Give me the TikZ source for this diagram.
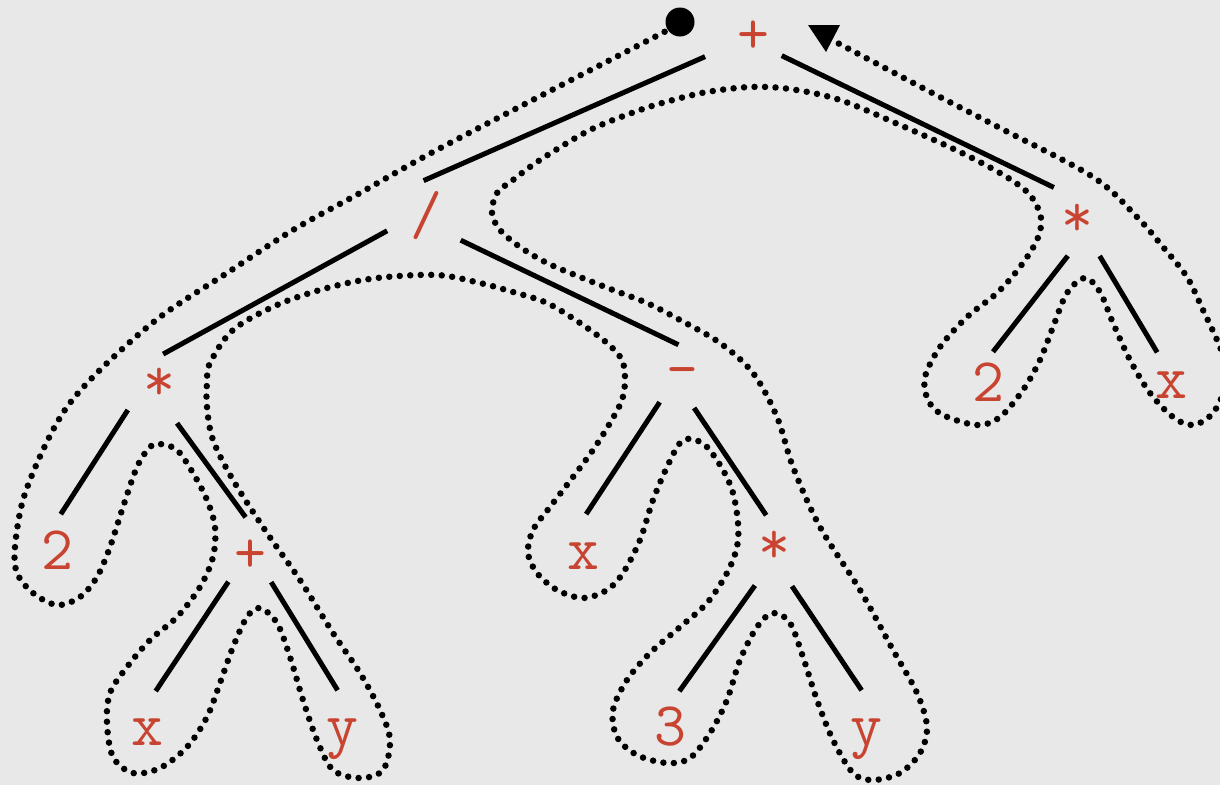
\documentclass[tikz,border=0pt]{standalone}
\usepackage{fontspec}
\definecolor{paper}{RGB}{232,232,232}
\definecolor{tred}{RGB}{200,68,48}
\newcommand{\lblfont}{\ttfamily\fontsize{62}{62}\selectfont}

\begin{document}
\begin{tikzpicture}[x=1pt, y=-1pt,
  lbl/.style={circle, inner sep=0pt, outer sep=0pt, minimum size=72pt, text height=38pt, text depth=0pt, text=tred, font=\lblfont},
  starlbl/.style={lbl, text height=16pt},
  branch/.style={line width=5pt},
  tour/.style={line width=6.5pt, line cap=round, dash pattern=on 0pt off 10.5pt},
  startdot/.style={circle, fill=black, inner sep=0pt, minimum size=29pt}
]
  \useasboundingbox (0,0) rectangle (1220,785);
  \fill[paper] (0,0) rectangle (1220,785);
  \clip (0,0) rectangle (1220,785);

  % labels
  \node[lbl] (root)  at (753,34)  {+};
  \node[lbl] (div)   at (426,215) {/};
  \node[starlbl] (rmul)  at (1077,228) {*};
  \node[starlbl] (lmul)  at (159,392) {*};
  \node[lbl] (minus) at (682,369) {-};
  \node[lbl] (rtwo)  at (988,382) {2};
  \node[lbl] (rx)    at (1171,379) {x};
  \node[lbl] (ltwo)  at (57,550)  {2};
  \node[lbl] (iplus) at (250,553) {+};
  \node[lbl] (mx)    at (583,550) {x};
  \node[starlbl] (mmul)  at (774,555) {*};
  \node[lbl] (lx)    at (147,726) {x};
  \node[lbl] (ly)    at (342,726) {y};
  \node[lbl] (three) at (670,726) {3};
  \node[lbl] (my)    at (866,726) {y};

  % branches
  \draw[branch, shorten <=17pt, shorten >=-4pt] (root.-154) -- (div.88);
  \draw[branch, shorten >=14pt] (root.-37) -- (rmul.107);
  \draw[branch, shorten <=6pt, shorten >=4pt] (div.-159) -- (lmul.89);
  \draw[branch, shorten <=7pt, shorten >=-16pt] (div.-38) -- (minus.120);
  \draw[branch] (lmul.-150) -- (ltwo.84);
  \draw[branch] (lmul.-60) -- (iplus.97);
  \draw[branch] (iplus.-127) -- (lx.76);
  \draw[branch] (iplus.-54) -- (ly.97);
  \draw[branch, shorten <=4pt] (minus.-124) -- (mx.85);
  \draw[branch, shorten <=5pt, shorten >=5pt] (minus.-75) -- (mmul.98);
  \draw[branch] (mmul.-122) -- (three.75);
  \draw[branch] (mmul.-60) -- (my.97);
  \draw[branch, shorten <=-7pt, shorten >=-6pt] (rmul.-112) -- (rtwo.76);
  \draw[branch, shorten >=-6pt] (rmul.-51) -- (rx.118);

  % tour round the tree
  \node[startdot] (start) at (680,22) {};
  \coordinate (tourend) at (832,40);
  \draw[tour] plot[smooth, tension=0.55] coordinates {(start) (668,30) (550,91) (433,152)
    (360,193) (293,230) (227,273) (160,317) (103,367) (67,407) (43,450) (23,500) (15,547)
    (17,573) (33,593) (57,605) (80,597) (97,577) (110,547) (123,507) (137,467) (150,447)
    (160,444) (177,450) (193,473) (207,500) (215,527) (213,557) (200,587) (177,617)
    (150,640) (127,667) (110,693) (107,723) (113,757) (133,773) (160,768) (187,747)
    (207,717) (220,683) (233,647) (247,617) (260,608) (277,623) (290,657) (303,700)
    (317,740) (333,770) (360,778) (383,770) (390,740) (380,710) (360,673) (333,633)
    (300,580) (267,533) (233,480) (213,440) (207,407) (207,382) (210,363) (233,330)
    (277,305) (327,288) (377,278) (437,275) (480,283) (513,292) (547,303) (580,323)
    (607,343) (622,360) (625,380) (622,400) (610,423) (593,450) (573,477) (550,507)
    (533,530) (528,553) (537,573) (557,590) (583,598) (607,590) (623,573) (640,540)
    (653,500) (667,467) (680,443) (692,439) (707,447) (723,470) (733,493) (738,523)
    (737,547) (727,573) (707,603) (680,627) (650,653) (627,680) (613,710) (617,737)
    (637,755) (667,763) (690,758) (710,733) (727,700) (740,660) (757,627) (773,613)
    (790,623) (803,657) (817,700) (833,740) (853,773) (873,780) (900,773) (920,753)
    (927,727) (917,693) (893,650) (860,590) (820,527) (793,467) (777,417) (753,373)
    (720,343) (680,320) (647,303) (613,290) (580,277) (547,263) (520,247) (500,230)
    (492,213) (497,193) (513,180) (540,160) (590,130) (640,110) (673,100) (707,92)
    (750,87) (790,89) (840,100) (900,125) (960,152) (1005,176) (1030,195) (1041,218)
    (1037,240) (1020,267) (997,293) (967,317) (940,347) (925,377) (928,400) (943,415)
    (977,425) (1000,417) (1023,390) (1040,360) (1053,327) (1067,293) (1085,278)
    (1100,292) (1113,323) (1130,360) (1150,393) (1173,417) (1193,425) (1213,413)
    (1226,385) (1225,362) (1217,340) (1203,310) (1187,277) (1163,247) (1137,217)
    (1093,177) (1000,128) (940,97) (885,68) (tourend)};
  \fill (tourend) ++(-24,-15) -- ++(32,0) -- ++(-14,27) -- cycle;
\end{tikzpicture}
\end{document}
